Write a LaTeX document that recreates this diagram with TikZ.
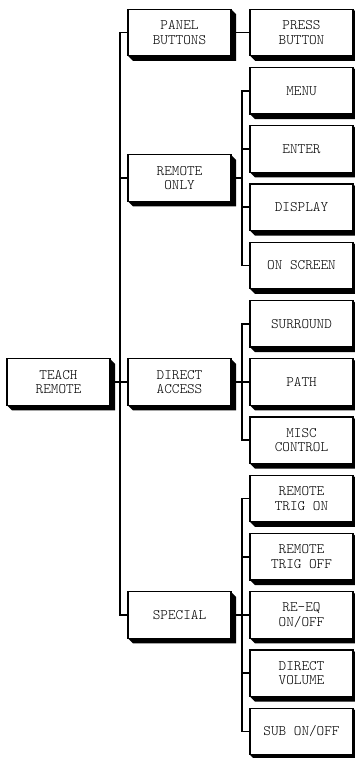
\documentclass[tikz,border=0pt]{standalone}
\usepackage{tikz}
\usetikzlibrary{positioning, calc, backgrounds}

\begin{document}
\begin{tikzpicture}[
    node distance=11.75pt and 19pt,
    b/.style={draw, line width=1.1pt, fill=white, align=center, inner sep=0pt, outer sep=0pt,
      minimum width=103pt, minimum height=46.5pt,
      font=\ttfamily\fontseries{l}\fontsize{14.5}{14.5}\selectfont},
    ln/.style={line width=1.6pt}]
    \useasboundingbox (0,0) rectangle (355pt,-758pt);
    % right column
    \node[b] (press) at (301.5pt,-32.5pt) {PRESS\\BUTTON};
    \node[b, below=of press] (menu) {MENU};
    \node[b, below=of menu] (enter) {ENTER};
    \node[b, below=of enter] (display) {DISPLAY};
    \node[b, below=of display] (screen) {ON SCREEN};
    \node[b, below=of screen] (surround) {SURROUND};
    \node[b, below=of surround] (path) {PATH};
    \node[b, below=of path] (misc) {MISC\\CONTROL};
    \node[b, below=of misc] (trigon) {REMOTE\\TRIG ON};
    \node[b, below=of trigon] (trigoff) {REMOTE\\TRIG OFF};
    \node[b, below=of trigoff] (reeq) {RE-EQ\\ON/OFF};
    \node[b, below=of reeq] (dvol) {DIRECT\\VOLUME};
    \node[b, below=of dvol] (sub) {SUB ON/OFF};
    % middle column
    \coordinate (mid) at ($(enter.west)!.5!(display.west)$);
    \node[b, left=of press] (panel) {PANEL\\BUTTONS};
    \node[b, left=of mid] (remote) {REMOTE\\ONLY};
    \node[b, left=of path] (direct) {DIRECT\\ACCESS};
    \node[b, left=of reeq] (special) {SPECIAL};
    % left column
    \node[b, left=18pt of direct] (teach) {TEACH\\REMOTE};
    % shadows
    \begin{scope}[on background layer]
      \foreach \n in {press, menu, enter, display, screen, surround, path, misc,
          trigon, trigoff, reeq, dvol, sub, panel, remote, direct, special, teach}
        \fill (\n.north east) -- ++(5pt,-5pt) |- ([shift={(5pt,-5pt)}]\n.south west)
          -- (\n.south west) -- cycle;
    \end{scope}
    % buses
    \coordinate (bus) at ($(panel.west)+(-8pt,0)$);
    \draw[ln] (panel.west) -- (bus) |- (special.west);
    \draw[ln] (teach.east) -- (direct.west);
    \draw[ln] (remote.west) -- (remote.west -| bus);
    \draw[ln] (panel.east) -- (press.west);
    \foreach \a/\z in {menu/screen, surround/misc, trigon/sub}
      \draw[ln] (\a.west) -- ++(-8pt,0) |- (\z.west);
    \foreach \n in {enter, display, path, trigoff, reeq, dvol}
      \draw[ln] (\n.west) -- ++(-8pt,0);
    \foreach \p/\c in {remote/mid, direct/path, special/reeq}
      \draw[ln] (\p.east) -- ($(\c.west)+(-8pt,0)$);
\end{tikzpicture}
\end{document}
